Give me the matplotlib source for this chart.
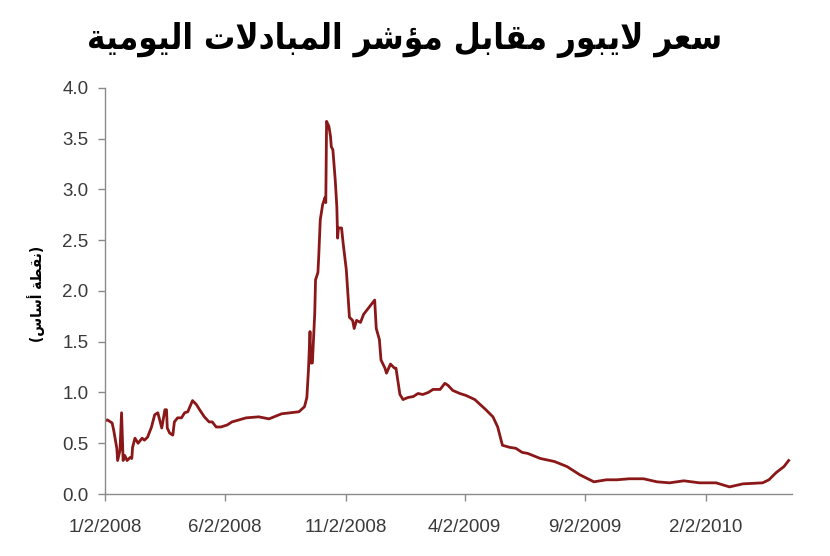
import matplotlib
matplotlib.use("Agg")
import matplotlib.pyplot as plt
import pandas as pd

# ---------------- data ----------------
start_date = "2008-01-02"
days_since_start = [
    0, 3, 9, 11, 15, 16, 19, 21, 23, 25, 28, 32, 34, 35, 38, 42, 47, 50, 54, 59,
    63, 67, 72, 76, 78, 79, 82, 86, 88, 92, 97, 101, 105, 110, 111, 116, 120, 126,
    132, 136, 141, 147, 155, 161, 179, 195, 208, 224, 246, 253, 256, 258, 260, 261,
    263, 266, 267, 270, 271, 273, 276, 279, 280, 281, 284, 286, 287, 289, 292, 294,
    295, 296, 300, 302, 306, 310, 314, 316, 319, 324, 328, 335, 342, 344, 348, 350,
    355, 357, 362, 367, 369, 374, 378, 384, 391, 397, 403, 410, 416, 425, 431, 435,
    441, 450, 458, 469, 476, 483, 492, 498, 504, 513, 521, 529, 536, 552, 570, 586,
    602, 620, 636, 649, 665, 683, 700, 716, 734, 754, 775, 792, 809, 834, 842, 851,
    861, 867,
]
spread = [
    0.72, 0.73, 0.70, 0.63, 0.45, 0.33, 0.43, 0.80, 0.33, 0.38, 0.33, 0.36, 0.35, 0.46,
    0.55, 0.50, 0.55, 0.53, 0.56, 0.66, 0.78, 0.80, 0.65, 0.83, 0.83, 0.65, 0.60, 0.58,
    0.71, 0.75, 0.75, 0.80, 0.81, 0.90, 0.92, 0.88, 0.83, 0.76, 0.71, 0.71, 0.66, 0.66,
    0.68, 0.71, 0.75, 0.76, 0.74, 0.79, 0.81, 0.86, 0.95, 1.22, 1.60, 1.29, 1.29, 1.78,
    2.11, 2.18, 2.33, 2.70, 2.85, 2.92, 2.87, 3.67, 3.62, 3.52, 3.42, 3.39, 3.09, 2.83,
    2.52, 2.62, 2.62, 2.47, 2.21, 1.74, 1.71, 1.63, 1.71, 1.69, 1.77, 1.84, 1.91, 1.63,
    1.52, 1.32, 1.24, 1.19, 1.28, 1.24, 1.24, 0.98, 0.93, 0.95, 0.96, 0.99, 0.98, 1.00,
    1.03, 1.03, 1.09, 1.07, 1.02, 0.99, 0.97, 0.93, 0.88, 0.83, 0.76, 0.66, 0.48, 0.46,
    0.45, 0.41, 0.40, 0.35, 0.32, 0.27, 0.19, 0.12, 0.14, 0.14, 0.15, 0.15, 0.12, 0.11,
    0.13, 0.11, 0.11, 0.07, 0.10, 0.11, 0.14, 0.21, 0.27, 0.33,
]
x_tick_dates = ["2008-01-02", "2008-06-02", "2008-11-02", "2009-04-02", "2009-09-02", "2010-02-02"]
x_tick_labels = ["1/2/2008", "6/2/2008", "11/2/2008", "4/2/2009", "9/2/2009", "2/2/2010"]
y_ticks = [0.0, 0.5, 1.0, 1.5, 2.0, 2.5, 3.0, 3.5, 4.0]
title_text = "سعر لايبور مقابل مؤشر المبادلات اليومية"
ylabel_text = "(نقطة أساس)"

# ---------------- minimal Arabic shaping ----------------
FORMS = {  # isolated, final, initial, medial
    'ا': ('\uFE8D', '\uFE8E', None, None),
    'أ': ('\uFE83', '\uFE84', None, None),
    'ب': ('\uFE8F', '\uFE90', '\uFE91', '\uFE92'),
    'ة': ('\uFE93', '\uFE94', None, None),
    'ت': ('\uFE95', '\uFE96', '\uFE97', '\uFE98'),
    'د': ('\uFEA9', '\uFEAA', None, None),
    'ر': ('\uFEAD', '\uFEAE', None, None),
    'س': ('\uFEB1', '\uFEB2', '\uFEB3', '\uFEB4'),
    'ش': ('\uFEB5', '\uFEB6', '\uFEB7', '\uFEB8'),
    'ط': ('\uFEC1', '\uFEC2', '\uFEC3', '\uFEC4'),
    'ع': ('\uFEC9', '\uFECA', '\uFECB', '\uFECC'),
    'ق': ('\uFED5', '\uFED6', '\uFED7', '\uFED8'),
    'ل': ('\uFEDD', '\uFEDE', '\uFEDF', '\uFEE0'),
    'م': ('\uFEE1', '\uFEE2', '\uFEE3', '\uFEE4'),
    'ن': ('\uFEE5', '\uFEE6', '\uFEE7', '\uFEE8'),
    'و': ('\uFEED', '\uFEEE', None, None),
    'ؤ': ('\uFE85', '\uFE86', None, None),
    'ي': ('\uFEF1', '\uFEF2', '\uFEF3', '\uFEF4'),
}
LAMALEF = {'ا': ('\uFEFB', '\uFEFC'), 'أ': ('\uFEF7', '\uFEF8')}


def dual(c):
    return c in FORMS and FORMS[c][2] is not None


def shape_arabic(text):
    out = []
    i = 0
    n = len(text)
    while i < n:
        c = text[i]
        if c not in FORMS:
            out.append(c)
            i += 1
            continue
        prev = text[i - 1] if i > 0 else None
        joins_prev = prev is not None and dual(prev)
        if c == 'ل' and i + 1 < n and text[i + 1] in LAMALEF:
            iso, fin = LAMALEF[text[i + 1]]
            out.append(fin if joins_prev else iso)
            i += 2
            continue
        nxt = text[i + 1] if i + 1 < n else None
        joins_next = dual(c) and nxt is not None and nxt in FORMS
        f = FORMS[c]
        if joins_prev and joins_next:
            g = f[3]
        elif joins_prev:
            g = f[1]
        elif joins_next:
            g = f[2]
        else:
            g = f[0]
        out.append(g)
        i += 1
    vis = ''.join(reversed(out))
    return vis.translate(str.maketrans({'(': ')', ')': '('}))


# ---------------- plot ----------------
dates = pd.to_datetime(start_date) + pd.to_timedelta(days_since_start, unit="D")

fig = plt.figure(figsize=(8.3, 5.56), dpi=100)
fig.patch.set_facecolor("white")
ax = fig.add_axes([0.1265, 0.1115, 0.8275, 0.7305])

ax.plot(dates, spread, color="#8b1818", linewidth=2.0, solid_joinstyle="round")

ax.set_ylim(0, 4.0)
ax.set_yticks(y_ticks)
ax.set_yticklabels([f"{v:.1f}" for v in y_ticks])
ax.set_xlim(pd.to_datetime(start_date), pd.to_datetime("2010-05-22"))
ax.set_xticks(pd.to_datetime(x_tick_dates))
ax.set_xticklabels(x_tick_labels)

for s in ["top", "right"]:
    ax.spines[s].set_visible(False)
for s in ["left", "bottom"]:
    ax.spines[s].set_color("#8a8a8a")
    ax.spines[s].set_linewidth(1.0)
ax.tick_params(axis="both", direction="out", length=5, width=1.0, color="#8a8a8a",
               labelcolor="#3a3a3a", labelsize=13.5)
for lab in ax.get_xticklabels() + ax.get_yticklabels():
    lab.set_family("Liberation Sans")
ax.tick_params(axis="x", pad=13)
ax.tick_params(axis="y", pad=7)

fig.text(0.488, 0.928, shape_arabic(title_text), ha="center", va="center",
         fontsize=25, fontweight="bold", fontstretch="condensed",
         family="DejaVu Sans", color="black")
fig.text(0.043, 0.472, shape_arabic(ylabel_text), ha="center", va="center",
         rotation=90, fontsize=11, fontweight="bold", fontstretch="condensed",
         family="DejaVu Sans", color="black")

fig.savefig("out.png", dpi=100, facecolor="white")
